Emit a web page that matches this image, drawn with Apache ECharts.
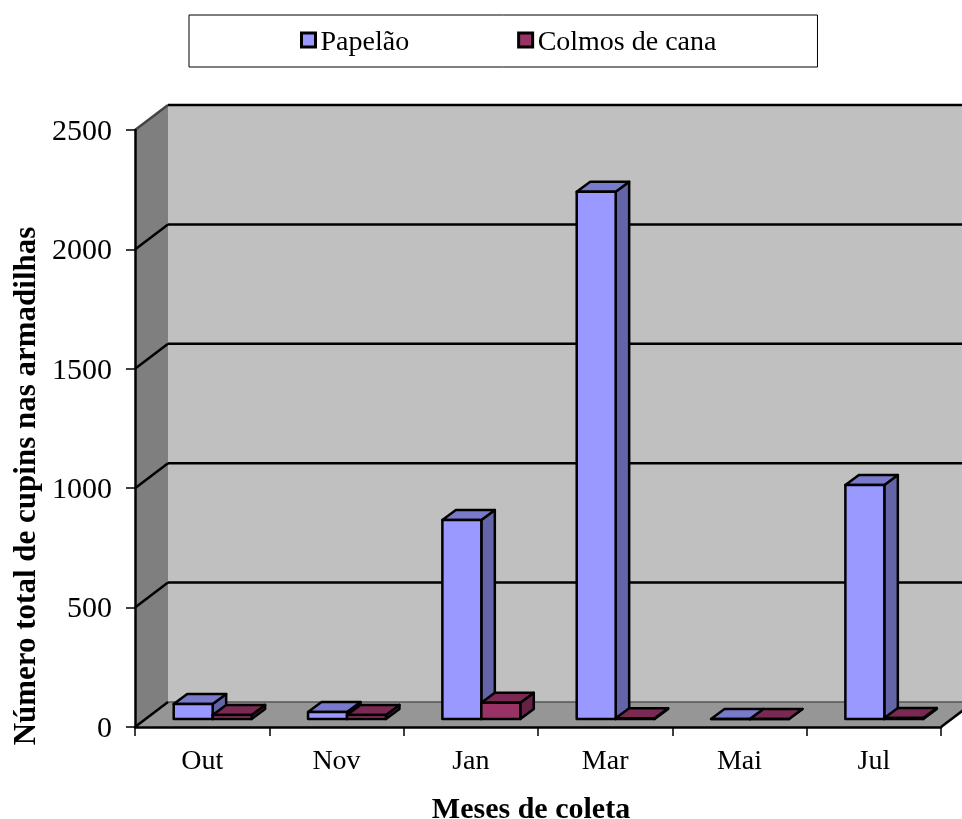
<!DOCTYPE html>
<html>
<head>
<meta charset="utf-8">
<title>Cupins</title>
<script src="https://cdn.jsdelivr.net/npm/echarts@6/dist/echarts.min.js"></script>
<style>
html, body { margin: 0; padding: 0; background: #fff; }
#main { width: 962px; height: 819px; }
</style>
</head>
<body>
<div id="main"></div>
<script>
var months = ['Out', 'Nov', 'Jan', 'Mar', 'Mai', 'Jul'];
var papelao = [63, 29, 833, 2208, 0, 980];
var colmos = [17, 17, 68, 3, 0, 4];
var yTicks = [0, 500, 1000, 1500, 2000, 2500];

var serif = '"Liberation Serif", "Times New Roman", serif';
// profundidade da caixa 3D e das barras, em px
var wallDx = 33, wallDy = -25;
var barInDx = 10.5, barInDy = -8;
var barDx = 13.5, barDy = -10;
var barFrac = 0.29;

function poly(points, fill, stroke, lw) {
    return {
        type: 'polygon',
        shape: { points: points },
        style: { fill: fill, stroke: stroke || null, lineWidth: lw || 0, lineJoin: 'round' }
    };
}
function line(x1, y1, x2, y2, color, lw) {
    return {
        type: 'line',
        shape: { x1: x1, y1: y1, x2: x2, y2: y2 },
        style: { stroke: color, lineWidth: lw }
    };
}

function renderWalls(params, api) {
    var x0 = api.coord([0, 0])[0] - api.size([1, 0])[0] / 2;
    var x1 = x0 + api.size([1, 0])[0] * months.length;
    var y0 = api.coord([0, 0])[1];
    var yTop = api.coord([0, 2500])[1];
    var kids = [
        poly([[x0 + wallDx, yTop + wallDy], [x1 + wallDx, yTop + wallDy], [x1 + wallDx, y0 + wallDy], [x0 + wallDx, y0 + wallDy]], '#c0c0c0'),
        poly([[x0, yTop], [x0 + wallDx, yTop + wallDy], [x0 + wallDx, y0 + wallDy], [x0, y0]], '#7f7f7f'),
        poly([[x0, y0], [x0 + wallDx, y0 + wallDy], [x1 + wallDx, y0 + wallDy], [x1, y0]], '#969696')
    ];
    yTicks.forEach(function (t) {
        var y = api.coord([0, t])[1];
        if (t > 0) {
            kids.push(line(x0 + wallDx, y + wallDy, x1 + wallDx, y + wallDy, '#000', 2.5));
            kids.push(line(x0, y, x0 + wallDx, y + wallDy, t === 2500 ? '#444' : '#000', 2.5));
        }
    });
    kids.push(line(x0 + wallDx, y0 + wallDy, x1 + wallDx, y0 + wallDy, '#555', 1.5));
    kids.push(line(x0, y0, x0 + wallDx, y0 + wallDy, '#000', 2.5));
    kids.push(line(x1, y0, x1 + wallDx, y0 + wallDy, '#000', 2.5));
    return { type: 'group', children: kids };
}

function barRenderer(seriesIndex, front, top, side) {
    return function (params, api) {
        var band = api.size([1, 0])[0];
        var w = band * barFrac;
        var c = api.coord([api.value(0), 0]);
        var t = api.coord([api.value(0), api.value(1)]);
        var left = c[0] + barInDx + (seriesIndex === 0 ? -w : 0);
        var right = left + w;
        var bottom = c[1] + barInDy;
        var ty = t[1] + barInDy;
        return {
            type: 'group',
            children: [
                poly([[right, ty], [right + barDx, ty + barDy], [right + barDx, bottom + barDy], [right, bottom]], side, '#000', 2.5),
                poly([[left, ty], [left + barDx, ty + barDy], [right + barDx, ty + barDy], [right, ty]], top, '#000', 2.5),
                poly([[left, ty], [right, ty], [right, bottom], [left, bottom]], front, '#000', 2.5)
            ]
        };
    };
}

function pairs(vals) {
    return vals.map(function (v, i) { return [i, v]; });
}

var option = {
    animation: false,
    backgroundColor: '#fff',
    textStyle: { fontFamily: serif, color: '#000' },
    legend: {
        left: 189,
        top: 15,
        padding: [14, 101, 10, 111],
        itemGap: 108,
        itemWidth: 14,
        itemHeight: 14,
        borderColor: '#000',
        borderWidth: 1,
        icon: 'rect',
        formatter: function (name) { return '{t|' + name + '}'; },
        textStyle: {
            fontFamily: serif,
            fontSize: 28,
            color: '#000',
            rich: { t: { fontFamily: serif, fontSize: 28, color: '#000', padding: [6, 0, 0, 0] } }
        },
        data: [
            { name: 'Papelão', itemStyle: { color: '#9999ff', borderColor: '#000', borderWidth: 3 } },
            { name: 'Colmos de cana', itemStyle: { color: '#993366', borderColor: '#000', borderWidth: 3 } }
        ]
    },
    grid: { left: 135, right: 21, top: 130, bottom: 92 },
    xAxis: {
        type: 'category',
        data: months,
        z: 5,
        axisLine: { lineStyle: { color: '#000', width: 2.5 } },
        axisTick: { show: true, alignWithLabel: false, length: 9, lineStyle: { color: '#000', width: 1.5 } },
        axisLabel: { color: '#000', fontFamily: serif, fontSize: 28, margin: 21 },
        splitLine: { show: false }
    },
    yAxis: {
        type: 'value',
        min: 0,
        max: 2500,
        interval: 500,
        z: 5,
        axisLine: { show: true, lineStyle: { color: '#000', width: 2.5 } },
        axisTick: { show: true, length: 9, lineStyle: { color: '#000', width: 1.5 } },
        axisLabel: {
            color: '#000',
            fontFamily: serif,
            fontSize: 30,
            margin: 23,
            formatter: function (v) { return '{v|' + v + '}'; },
            rich: { v: { fontFamily: serif, fontSize: 30, color: '#000', padding: [4, 0, 0, 0] } }
        },
        splitLine: { show: false }
    },
    graphic: [
        {
            type: 'text',
            x: 27,
            y: 486,
            rotation: Math.PI / 2,
            style: {
                text: 'Número total de cupins nas armadilhas',
                font: 'bold 31px ' + serif,
                fill: '#000',
                align: 'center',
                verticalAlign: 'middle'
            }
        },
        {
            type: 'text',
            x: 531,
            y: 810,
            style: {
                text: 'Meses de coleta',
                font: 'bold 30px ' + serif,
                fill: '#000',
                align: 'center',
                verticalAlign: 'middle'
            }
        }
    ],
    series: [
        {
            type: 'custom',
            name: 'paredes',
            clip: false,
            silent: true,
            z: 1,
            data: [[0, 0]],
            encode: { x: 0, y: 1 },
            renderItem: renderWalls
        },
        {
            type: 'custom',
            name: 'Papelão',
            clip: false,
            z: 2,
            itemStyle: { color: '#9999ff' },
            data: pairs(papelao),
            encode: { x: 0, y: 1 },
            renderItem: barRenderer(0, '#9999ff', '#7a7acc', '#6464a8')
        },
        {
            type: 'custom',
            name: 'Colmos de cana',
            clip: false,
            z: 3,
            itemStyle: { color: '#993366' },
            data: pairs(colmos),
            encode: { x: 0, y: 1 },
            renderItem: barRenderer(1, '#993366', '#7a2952', '#662244')
        }
    ]
};

var myChart = echarts.init(document.getElementById('main'));
myChart.setOption(option);
</script>
</body>
</html>
